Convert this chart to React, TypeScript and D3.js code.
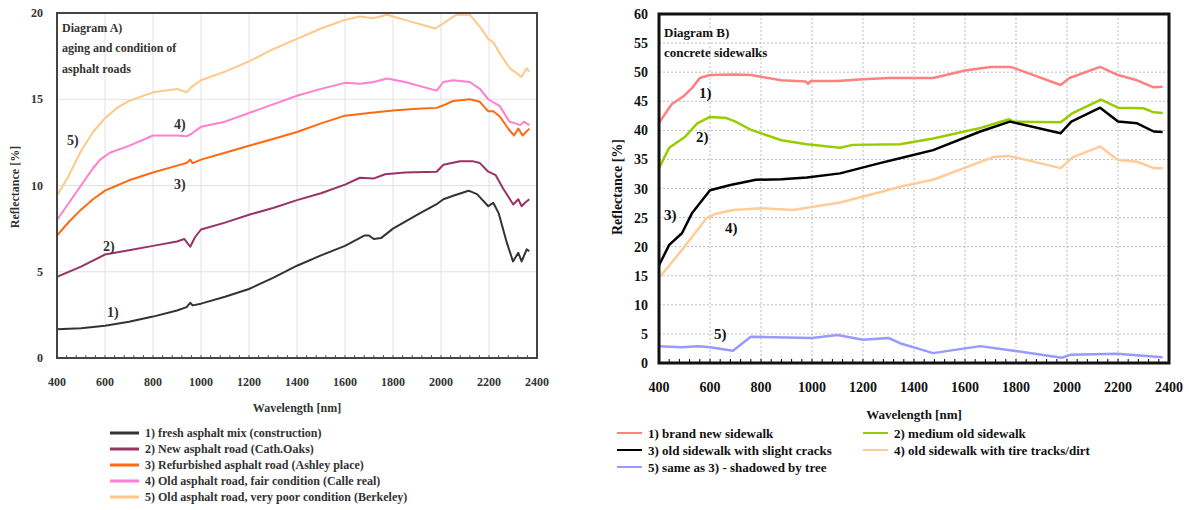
import React from "react";
import * as d3 from "d3";

// ---------- Diagram A data (wavelength nm, reflectance %) ----------
const aFresh: [number, number][] = [[400,1.66],[500,1.72],[600,1.87],[700,2.1],[800,2.4],[900,2.75],[940,2.95],[955,3.2],[965,3.05],[1000,3.15],[1100,3.55],[1200,4.0],[1300,4.65],[1400,5.35],[1500,5.95],[1600,6.5],[1680,7.1],[1700,7.1],[1720,6.9],[1750,6.95],[1800,7.5],[1900,8.3],[1980,8.9],[2010,9.2],[2060,9.45],[2115,9.7],[2150,9.5],[2197,8.8],[2218,9.0],[2240,8.4],[2274,6.7],[2300,5.6],[2322,6.1],[2336,5.6],[2357,6.3],[2368,6.2]];
const aNew: [number, number][] = [[400,4.7],[500,5.3],[600,6.0],[700,6.25],[800,6.5],[900,6.75],[930,6.9],[955,6.45],[975,7.0],[1000,7.45],[1100,7.85],[1200,8.3],[1300,8.7],[1400,9.15],[1500,9.55],[1600,10.05],[1662,10.45],[1718,10.4],[1767,10.65],[1850,10.75],[1982,10.8],[2010,11.2],[2079,11.4],[2135,11.4],[2162,11.3],[2197,10.8],[2228,10.6],[2260,9.8],[2301,8.9],[2322,9.2],[2336,8.8],[2350,9.0],[2368,9.2]];
const aRefurb: [number, number][] = [[400,7.1],[450,7.9],[500,8.6],[550,9.2],[600,9.7],[650,10.0],[700,10.3],[800,10.75],[900,11.15],[940,11.3],[955,11.5],[965,11.3],[1000,11.5],[1100,11.9],[1200,12.3],[1300,12.7],[1400,13.1],[1500,13.6],[1600,14.05],[1700,14.2],[1800,14.35],[1900,14.45],[1982,14.5],[2010,14.65],[2050,14.9],[2120,15.0],[2162,14.85],[2197,14.3],[2218,14.3],[2245,14.0],[2285,13.2],[2305,12.9],[2322,13.3],[2340,12.9],[2368,13.3]];
const aOldFair: [number, number][] = [[400,8.0],[450,9.0],[500,10.0],[550,11.0],[580,11.5],[620,11.9],[700,12.3],[800,12.9],[900,12.9],[940,12.85],[960,13.0],[1000,13.4],[1100,13.7],[1200,14.2],[1300,14.7],[1400,15.2],[1500,15.6],[1600,15.95],[1662,15.9],[1720,16.0],[1775,16.2],[1850,16.0],[1982,15.5],[2010,16.0],[2050,16.1],[2120,16.0],[2162,15.6],[2197,15.0],[2245,14.6],[2285,13.7],[2310,13.6],[2330,13.5],[2345,13.7],[2368,13.5]];
const aOldPoor: [number, number][] = [[400,9.4],[450,10.6],[500,12.0],[550,13.1],[600,13.9],[650,14.5],[700,14.9],[800,15.4],[900,15.6],[940,15.4],[960,15.7],[1000,16.1],[1100,16.6],[1200,17.2],[1300,17.9],[1400,18.5],[1500,19.1],[1600,19.6],[1662,19.8],[1718,19.7],[1775,19.9],[1850,19.6],[1976,19.1],[2010,19.4],[2064,19.9],[2120,19.9],[2162,19.2],[2197,18.5],[2218,18.3],[2252,17.5],[2287,16.8],[2336,16.3],[2357,16.8],[2368,16.6]];

const aLabels = [
  "1) fresh asphalt mix (construction)",
  "2) New asphalt road (Cath.Oaks)",
  "3) Refurbished asphalt road (Ashley place)",
  "4) Old asphalt road, fair condition (Calle real)",
  "5) Old asphalt road, very poor condition (Berkeley)",
];
const aColors = ["#333333", "#993366", "#FF6a10", "#FF7fd0", "#FFC888"];
const aSeries = [aFresh, aNew, aRefurb, aOldFair, aOldPoor];
const aYTicks = [0, 5, 10, 15, 20];
const xTicks = [400, 600, 800, 1000, 1200, 1400, 1600, 1800, 2000, 2200, 2400];

// ---------- Diagram B data ----------
const bBrandNew: [number, number][] = [[400,41.3],[450,44.5],[500,46.0],[530,47.3],[560,49.0],[600,49.5],[700,49.6],[760,49.5],[880,48.6],[975,48.4],[985,48.0],[995,48.5],[1100,48.5],[1200,48.8],[1300,49.0],[1475,49.0],[1600,50.3],[1700,50.9],[1780,50.9],[1975,47.8],[2010,49.0],[2130,50.9],[2200,49.5],[2275,48.6],[2340,47.4],[2375,47.5]];
const bMedium: [number, number][] = [[400,33.5],[440,37.0],[500,38.8],[550,41.2],[600,42.3],[665,42.1],[700,41.5],[760,40.1],[880,38.3],[980,37.6],[1110,37.0],[1160,37.5],[1345,37.6],[1475,38.6],[1660,40.4],[1773,41.9],[1790,41.5],[1975,41.4],[2020,42.9],[2133,45.3],[2200,43.9],[2300,43.8],[2340,43.1],[2375,43.0]];
const bCracks: [number, number][] = [[400,16.8],[440,20.3],[490,22.3],[530,25.8],[600,29.7],[680,30.6],[780,31.5],[880,31.6],[980,31.9],[1110,32.6],[1270,34.4],[1345,35.2],[1475,36.6],[1660,39.8],[1776,41.5],[1975,39.5],[2017,41.5],[2130,43.9],[2200,41.5],[2275,41.2],[2340,39.8],[2375,39.7]];
const bTracks: [number, number][] = [[400,14.6],[495,19.7],[586,24.9],[620,25.6],[690,26.3],[800,26.6],[925,26.3],[1110,27.6],[1270,29.4],[1345,30.3],[1475,31.5],[1710,35.4],[1773,35.6],[1975,33.5],[2023,35.4],[2130,37.2],[2200,34.9],[2275,34.6],[2340,33.5],[2375,33.5]];
const bShadow: [number, number][] = [[400,2.9],[490,2.7],[555,2.9],[600,2.7],[690,2.1],[760,4.5],[1000,4.3],[1100,4.8],[1200,4.0],[1300,4.3],[1345,3.4],[1475,1.7],[1660,2.9],[1776,2.2],[1980,0.9],[2012,1.4],[2196,1.6],[2375,1.0]];

const bLabels = [
  "1) brand new sidewalk",
  "2) medium old sidewalk",
  "3) old sidewalk with slight cracks",
  "4) old sidewalk with tire tracks/dirt",
  "5) same as 3) - shadowed by tree",
];
const bColors = ["#FF8080", "#99CC00", "#000000", "#FFCC99", "#9999FF"];
const bSeries = [bBrandNew, bMedium, bCracks, bTracks, bShadow];
const bYTicks = [0, 5, 10, 15, 20, 25, 30, 35, 40, 45, 50, 55, 60];
const minorTicks = d3.range(400, 2401, 40);

const FONT = "Liberation Serif, DejaVu Serif, serif";

export default function App() {
  // Diagram A geometry
  const ax = d3.scaleLinear().domain([400, 2400]).range([57, 537]);
  const ay = d3.scaleLinear().domain([0, 20]).range([358, 13]);
  const aLine = d3.line<[number, number]>().x((d) => ax(d[0])).y((d) => ay(d[1]));

  // Diagram B geometry
  const bx = d3.scaleLinear().domain([400, 2400]).range([659, 1169]);
  const by = d3.scaleLinear().domain([0, 60]).range([363, 14]);
  const bLine = d3.line<[number, number]>().x((d) => bx(d[0])).y((d) => by(d[1]));

  const aText = "#333";
  return (
    <svg width={1189} height={510} style={{ position: "absolute", left: 0, top: 0, background: "#fff", fontFamily: FONT }}>
      <defs>
        <clipPath id="clipA"><rect x={57} y={12} width={480} height={347} /></clipPath>
        <clipPath id="clipB"><rect x={659} y={13} width={510} height={351} /></clipPath>
      </defs>

      {/* ================= Diagram A ================= */}
      {xTicks.slice(1, -1).map((t) => (
        <line key={"agx" + t} x1={ax(t)} x2={ax(t)} y1={ay(20)} y2={ay(0)} stroke="#e2e2e2" strokeWidth={1} />
      ))}
      {aYTicks.slice(1, -1).map((t) => (
        <line key={"agy" + t} x1={ax(400)} x2={ax(2400)} y1={ay(t)} y2={ay(t)} stroke="#e2e2e2" strokeWidth={1} />
      ))}
      {minorTicks.map((t) => (
        <line key={"amt" + t} x1={ax(t)} x2={ax(t)} y1={ay(0)} y2={ay(0) - 3} stroke="#555" strokeWidth={1} />
      ))}
      <g clipPath="url(#clipA)">
        {aSeries.map((s, i) => (
          <path key={"as" + i} d={aLine(s) || ""} fill="none" stroke={aColors[i]} strokeWidth={2} strokeLinejoin="round" />
        ))}
      </g>
      <rect x={ax(400)} y={ay(20)} width={ax(2400) - ax(400)} height={ay(0) - ay(20)} fill="none" stroke="#444" strokeWidth={2} />
      {aYTicks.map((t) => (
        <text key={"ayt" + t} x={ax(400) - 14} y={ay(t) + 4} textAnchor="end" fontSize={12} fontWeight="bold" fill={aText}>{t}</text>
      ))}
      {xTicks.map((t) => (
        <text key={"axt" + t} x={ax(t)} y={386} textAnchor="middle" fontSize={12} fontWeight="bold" fill={aText}>{t}</text>
      ))}
      <text x={297} y={412} textAnchor="middle" fontSize={12} fontWeight="bold" fill={aText}>Wavelength [nm]</text>
      <text transform="translate(19,187) rotate(-90)" textAnchor="middle" fontSize={12} fontWeight="bold" fill={aText}>Reflectance [%]</text>
      <text x={62} y={32} fontSize={12} fontWeight="bold" fill={aText}>Diagram A)</text>
      <text x={62} y={52} fontSize={12} fontWeight="bold" fill={aText}>aging and condition of</text>
      <text x={62} y={73} fontSize={12} fontWeight="bold" fill={aText}>asphalt roads</text>
      <text x={67} y={145} fontSize={14} fontWeight="bold" fill={aText}>5)</text>
      <text x={174} y={129} fontSize={14} fontWeight="bold" fill={aText}>4)</text>
      <text x={174} y={189} fontSize={14} fontWeight="bold" fill={aText}>3)</text>
      <text x={103} y={251} fontSize={14} fontWeight="bold" fill={aText}>2)</text>
      <text x={107} y={317} fontSize={14} fontWeight="bold" fill={aText}>1)</text>
      {aLabels.map((l, i) => (
        <g key={"alg" + i}>
          <line x1={110} x2={139} y1={433 + i * 16} y2={433 + i * 16} stroke={aColors[i]} strokeWidth={3} />
          <text x={145} y={437 + i * 16} fontSize={12} fontWeight="bold" fill={aText}>{l}</text>
        </g>
      ))}

      {/* ================= Diagram B ================= */}
      {xTicks.slice(1, -1).map((t) => (
        <line key={"bgx" + t} x1={bx(t)} x2={bx(t)} y1={by(60)} y2={by(0)} stroke="#bdbdbd" strokeWidth={1} strokeDasharray="2,2" />
      ))}
      {bYTicks.slice(1, -1).map((t) => (
        <line key={"bgy" + t} x1={bx(400)} x2={bx(2400)} y1={by(t)} y2={by(t)} stroke="#bdbdbd" strokeWidth={1} strokeDasharray="2,2" />
      ))}
      {minorTicks.map((t) => (
        <line key={"bmt" + t} x1={bx(t)} x2={bx(t)} y1={by(0)} y2={by(0) - 4} stroke="#000" strokeWidth={1} />
      ))}
      <g clipPath="url(#clipB)">
        {bSeries.map((s, i) => (
          <path key={"bs" + i} d={bLine(s) || ""} fill="none" stroke={bColors[i]} strokeWidth={2.5} strokeLinejoin="round" />
        ))}
      </g>
      <rect x={bx(400)} y={by(60)} width={bx(2400) - bx(400)} height={by(0) - by(60)} fill="none" stroke="#111" strokeWidth={3} />
      {bYTicks.map((t) => (
        <text key={"byt" + t} x={bx(400) - 11} y={by(t) + 5} textAnchor="end" fontSize={14} fontWeight="bold" fill="#111">{t}</text>
      ))}
      {xTicks.map((t) => (
        <text key={"bxt" + t} x={bx(t)} y={392} textAnchor="middle" fontSize={14} fontWeight="bold" fill="#111">{t}</text>
      ))}
      <text x={914} y={419} textAnchor="middle" fontSize={13} fontWeight="bold" fill="#111">Wavelength [nm]</text>
      <text transform="translate(622,187) rotate(-90)" textAnchor="middle" fontSize={14} fontWeight="bold" fill="#111">Reflectance [%]</text>
      <text x={664} y={37} fontSize={13} fontWeight="bold" fill="#111">Diagram B)</text>
      <text x={664} y={57} fontSize={13} fontWeight="bold" fill="#111">concrete sidewalks</text>
      <text x={699} y={98} fontSize={15} fontWeight="bold" fill="#111">1)</text>
      <text x={696} y={142} fontSize={15} fontWeight="bold" fill="#111">2)</text>
      <text x={664} y={220} fontSize={15} fontWeight="bold" fill="#111">3)</text>
      <text x={725} y={233} fontSize={15} fontWeight="bold" fill="#111">4)</text>
      <text x={714} y={339} fontSize={15} fontWeight="bold" fill="#111">5)</text>
      {bLabels.map((l, i) => {
        const col = i % 2;
        const row = Math.floor(i / 2);
        const lx = col === 0 ? 617 : 863;
        const ly = 433 + row * 17;
        return (
          <g key={"blg" + i}>
            <line x1={lx} x2={lx + 25} y1={ly} y2={ly} stroke={bColors[i]} strokeWidth={2} />
            <text x={lx + 31} y={ly + 5} fontSize={13} fontWeight="bold" fill="#111">{l}</text>
          </g>
        );
      })}
    </svg>
  );
}
